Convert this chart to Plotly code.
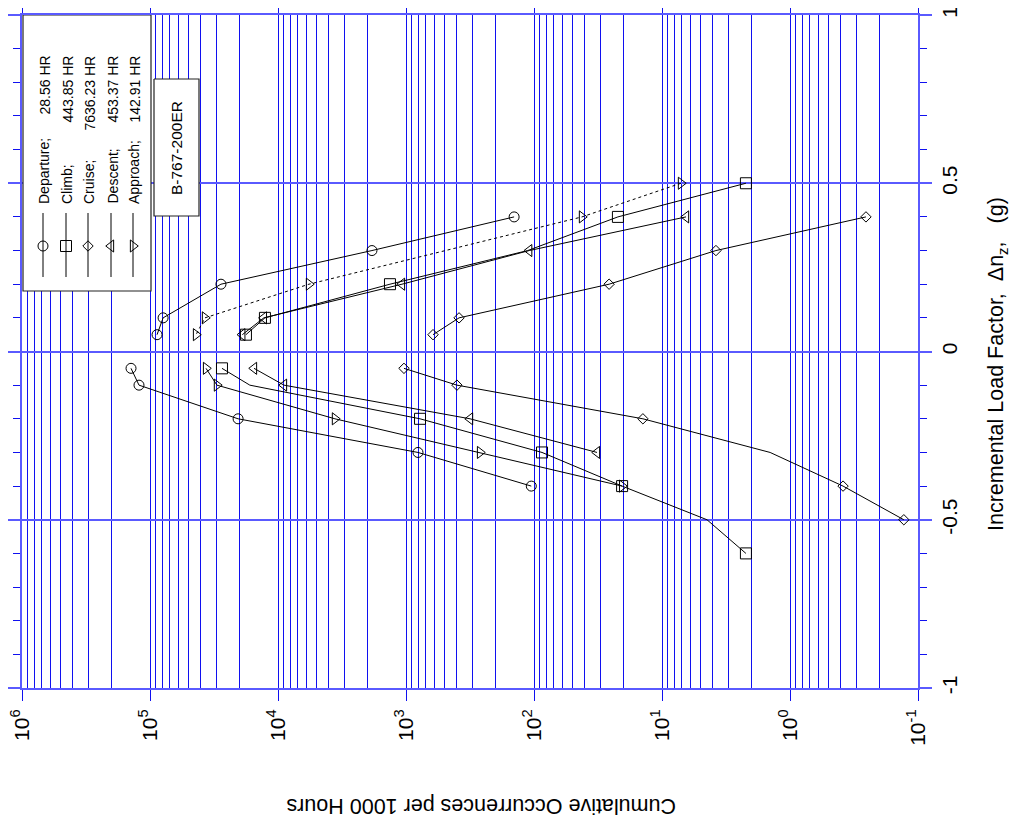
import plotly.graph_objects as go
import numpy as np

# ---------------- data ----------------
dep_pos_load = [0.4, 0.3, 0.2, 0.1, 0.05]
dep_pos_occ = [143, 1845, 27900, 79000, 88100]
dep_neg_load = [-0.05, -0.1, -0.2, -0.3, -0.4]
dep_neg_occ = [140700, 121900, 20500, 806, 105]

climb_pos_load = [0.5, 0.4, 0.3, 0.2, 0.1, 0.05]
climb_pos_occ = [2.21, 22.1, 112, 1334, 12650, 17800]
climb_pos_marked = [1, 1, 0, 1, 1, 1]
climb_neg_load = [-0.05, -0.1, -0.2, -0.3, -0.4, -0.5, -0.6]
climb_neg_occ = [27400, 16600, 777, 86.6, 20.5, 4.45, 2.21]
climb_neg_marked = [1, 0, 1, 1, 1, 0, 1]

cruise_pos_load = [0.4, 0.3, 0.2, 0.1, 0.05]
cruise_pos_occ = [0.255, 3.79, 25.9, 385, 615]
cruise_neg_load = [-0.05, -0.1, -0.2, -0.3, -0.4, -0.5]
cruise_neg_occ = [1037, 400, 14.1, 1.43, 0.385, 0.129]
cruise_neg_marked = [1, 1, 1, 0, 1, 1]

desc_pos_load = [0.4, 0.3, 0.2, 0.1, 0.05]
desc_pos_occ = [6.49, 109, 1075, 12900, 19000]
desc_neg_load = [-0.05, -0.1, -0.2, -0.3]
desc_neg_occ = [15400, 8980, 316, 32.2]

appr_pos_load = [0.5, 0.4, 0.2, 0.1, 0.05]
appr_pos_occ = [7.11, 42.2, 5730, 37200, 43700]
appr_neg_load = [-0.05, -0.1, -0.2, -0.3, -0.4]
appr_neg_occ = [36500, 30000, 3590, 264, 20.5]

legend_names = ["Departure;", "Climb;", "Cruise;", "Descent;", "Approach;"]
legend_hours = ["28.56\u00a0HR", "443.85\u00a0HR", "7636.23\u00a0HR", "453.37\u00a0HR", "142.91\u00a0HR"]

x_tick_vals = [1e6, 1e5, 1e4, 1e3, 1e2, 1e1, 1e0, 1e-1]
x_tick_text = ["10<sup>6</sup>", "10<sup>5</sup>", "10<sup>4</sup>", "10<sup>3</sup>",
               "10<sup>2</sup>", "10<sup>1</sup>", "10<sup>0</sup>", "10<sup>-1</sup>"]
y_tick_vals = [-1, -0.5, 0, 0.5, 1]
y_tick_text = ["-1", "-0.5", "0", "0.5", "1"]

# ---------------- style ----------------
OFF = 8  # default page body margin
W, H = 1023 - OFF, 822 - OFF
L, R, T, B = 22, 918, 15, 688  # plot area in window pixels
FONT = "Liberation Sans, Arial, sans-serif"
BLUE = "#1010f0"
BLUE_L = "#5a5aff"

symbols = ["circle-open", "square-open", "diamond-open", "triangle-left-open", "triangle-right-open"]
sizes = [10, 11, 8, 10.5, 10.5]

fig = go.Figure()


def add_branch(load, occ, k, marked=None, dash="solid"):
    if marked is None:
        marked = [1] * len(load)
    fig.add_trace(go.Scatter(
        x=occ, y=load, mode="lines+markers",
        line=dict(color="black", width=1, dash=dash),
        marker=dict(symbol=symbols[k], size=[sizes[k] if m else 0 for m in marked],
                    opacity=[1 if m else 0 for m in marked],
                    color="black", line=dict(color="black", width=1)),
        showlegend=False, hoverinfo="skip"))


add_branch(dep_pos_load, dep_pos_occ, 0)
add_branch(dep_neg_load, dep_neg_occ, 0)
add_branch(climb_pos_load, climb_pos_occ, 1, climb_pos_marked)
add_branch(climb_neg_load, climb_neg_occ, 1, climb_neg_marked)
add_branch(cruise_pos_load, cruise_pos_occ, 2)
add_branch(cruise_neg_load, cruise_neg_occ, 2, cruise_neg_marked)
add_branch(desc_pos_load, desc_pos_occ, 3)
add_branch(desc_neg_load, desc_neg_occ, 3)
add_branch(appr_pos_load, appr_pos_occ, 4, dash="3px,3px")
add_branch(appr_neg_load, appr_neg_occ, 4)

# ---------------- legend & label box on an overlay (pixel) axis ----------------
leg_box = (23, 151, 15, 291)
b_box = (154, 199, 79, 216)
for (x0, x1, y0, y1) in (leg_box, b_box):
    fig.add_trace(go.Scatter(x=[x0, x1, x1, x0, x0], y=[y0, y0, y1, y1, y0],
                             xaxis="x2", yaxis="y2", mode="lines", fill="toself",
                             fillcolor="white", line=dict(color="#222222", width=1.2),
                             showlegend=False, hoverinfo="skip"))
leg_cols = [43, 66, 88, 111, 133]
for k, cx in enumerate(leg_cols):
    fig.add_trace(go.Scatter(x=[cx, cx, cx], y=[213, 246, 277], xaxis="x2", yaxis="y2",
                             mode="lines+markers", line=dict(color="black", width=1),
                             marker=dict(symbol=symbols[k], size=[0, sizes[k], 0], opacity=[0, 1, 0],
                                         color="black", line=dict(color="black", width=1)),
                             showlegend=False, hoverinfo="skip"))


def px_x(x):
    return (x - L) / (R - L)


def px_y(y):
    return (B - y) / (B - T)


annotations = []
for k, cx in enumerate(leg_cols):
    annotations.append(dict(text=legend_names[k], x=px_x(cx + 1), y=px_y(206), xref="paper", yref="paper",
                            xanchor="center", yanchor="bottom", textangle=-90, showarrow=False,
                            font=dict(family=FONT, size=14, color="black")))
    annotations.append(dict(text=legend_hours[k], x=px_x(cx + 1), y=px_y(54), xref="paper", yref="paper",
                            xanchor="center", yanchor="top", textangle=-90, showarrow=False,
                            font=dict(family=FONT, size=14, color="black")))
annotations.append(dict(text="B-767-200ER", x=px_x(177), y=px_y(148), xref="paper", yref="paper",
                        xanchor="center", yanchor="middle", textangle=-90, showarrow=False,
                        font=dict(family=FONT, size=15.5, color="black")))
annotations.append(dict(text="Cumulative Occurrences per 1000 Hours", x=px_x(481), y=px_y(806),
                        xref="paper", yref="paper", xanchor="center", yanchor="middle",
                        textangle=180, showarrow=False, font=dict(family=FONT, size=21.5, color="black")))
annotations.append(dict(text="Incremental Load Factor,\u00a0\u00a0\u0394n<sub>z</sub>,\u00a0\u00a0\u00a0(g)",
                        x=px_x(998), y=px_y(364), xref="paper", yref="paper", xanchor="center",
                        yanchor="middle", textangle=-90, showarrow=False,
                        font=dict(family=FONT, size=21.5, color="black")))

minor_x = [m * 10.0 ** e for e in range(-1, 6) for m in range(2, 10)]

fig.update_layout(
    width=W, height=H,
    margin=dict(l=L - OFF, r=1023 - R, t=T - OFF, b=822 - B, pad=0, autoexpand=False),
    paper_bgcolor="white", plot_bgcolor="white",
    font=dict(family=FONT, color="black"),
    xaxis=dict(type="log", range=[6, -1], autorange=False, automargin=False,
               tickmode="array", tickvals=x_tick_vals, ticktext=x_tick_text,
               tickangle=-90, tickfont=dict(family=FONT, size=21, color="black"),
               ticklabeloverflow="allow",
               ticks="outside", ticklen=11, tickcolor=BLUE, tickwidth=1,
               showline=True, linecolor=BLUE_L, linewidth=2, mirror="ticks",
               showgrid=True, gridcolor=BLUE, gridwidth=1, zeroline=False,
               minor=dict(tickmode="array", tickvals=minor_x, showgrid=True, gridcolor=BLUE,
                          gridwidth=1, ticks="")),
    yaxis=dict(range=[-1, 1], autorange=False, side="right", automargin=False,
               tickmode="array", tickvals=y_tick_vals, ticktext=y_tick_text,
               tickangle=-90, tickfont=dict(family=FONT, size=21, color="black"),
               ticklabeloverflow="allow",
               ticks="outside", ticklen=12, tickcolor=BLUE_L, tickwidth=2,
               showline=True, linecolor=BLUE_L, linewidth=2, mirror="ticks",
               showgrid=True, gridcolor=BLUE_L, gridwidth=2, zeroline=False,
               minor=dict(dtick=0.1, tick0=0, ticks="outside", ticklen=7, tickcolor=BLUE,
                          tickwidth=1, showgrid=False)),
    xaxis2=dict(overlaying="x", range=[L, R], autorange=False, visible=False, anchor="y2"),
    yaxis2=dict(overlaying="y", range=[B, T], autorange=False, visible=False, anchor="x2"),
    annotations=annotations,
    showlegend=False,
)

fig.write_html("out.html")
